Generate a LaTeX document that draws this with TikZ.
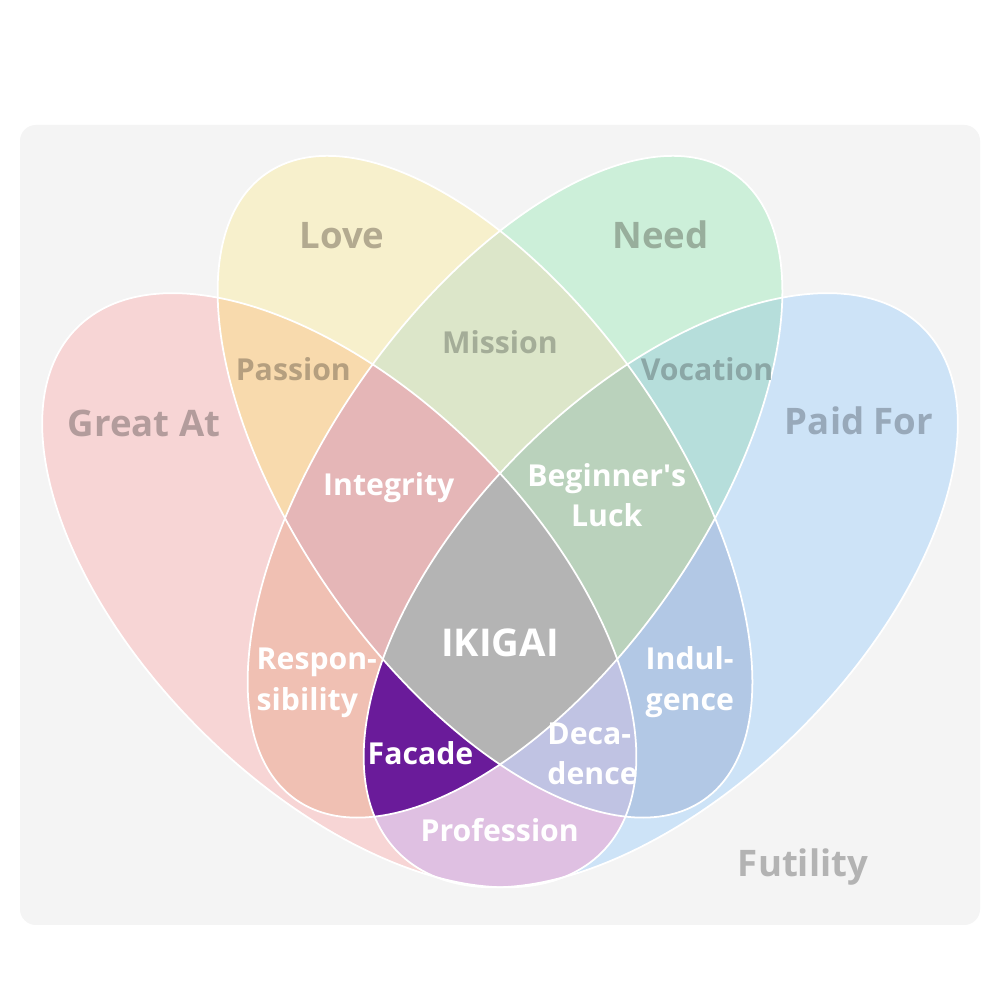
\documentclass[tikz,border=0pt]{standalone}
\usepackage{fontspec}
\setmainfont{Open Sans}
\definecolor{bgc}{HTML}{F4F4F4}
\definecolor{cGreat}{HTML}{F7D5D5}
\definecolor{cLove}{HTML}{F7F0CC}
\definecolor{cNeed}{HTML}{CCEFD9}
\definecolor{cPaid}{HTML}{CDE3F7}
\definecolor{cPassion}{HTML}{F8DAAD}
\definecolor{cMission}{HTML}{DCE6C9}
\definecolor{cVocation}{HTML}{B6DEDB}
\definecolor{cProfession}{HTML}{DFC0E2}
\definecolor{cRespons}{HTML}{F0C0B3}
\definecolor{cIndulg}{HTML}{B2C8E5}
\definecolor{cIntegrity}{HTML}{E5B6B7}
\definecolor{cLuck}{HTML}{BAD2BC}
\definecolor{cFacade}{HTML}{6A1B9A}
\definecolor{cDecad}{HTML}{C0C3E3}
\definecolor{cIkigai}{HTML}{B4B4B4}
\definecolor{tGreat}{HTML}{B39C9C}
\definecolor{tLove}{HTML}{B3AA90}
\definecolor{tNeed}{HTML}{98AE9C}
\definecolor{tPaid}{HTML}{98A9BA}
\definecolor{tPassion}{HTML}{B59F7F}
\definecolor{tMission}{HTML}{A4AD98}
\definecolor{tVocation}{HTML}{8BA7A6}
\definecolor{tFutility}{HTML}{B3B3B3}
\newcommand\EllA[1]{\path[#1, rotate around={-45:(3.3925,4.0975)}] (3.3925,4.0975) ellipse [x radius=3.71cm, y radius=1.97cm];}
\newcommand\EllB[1]{\path[#1, rotate around={-55:(4.85,5.1325)}] (4.85,5.1325) ellipse [x radius=3.82cm, y radius=1.87cm];}
\newcommand\EllC[1]{\path[#1, rotate around={55:(5.15,5.1325)}] (5.15,5.1325) ellipse [x radius=3.82cm, y radius=1.87cm];}
\newcommand\EllD[1]{\path[#1, rotate around={45:(6.6075,4.0975)}] (6.6075,4.0975) ellipse [x radius=3.71cm, y radius=1.97cm];}
\tikzset{
  biglab/.style={font=\bfseries\fontsize{10.4}{12}\selectfont, inner sep=0pt, anchor=base},
  smlab/.style={font=\bfseries\fontsize{8.6}{11.4}\selectfont, inner sep=0pt, anchor=base},
  outl/.style={draw=white, line width=0.5pt}
}
\begin{document}
\begin{tikzpicture}
\useasboundingbox (0,0) rectangle (10,10);
\fill[white] (0,0) rectangle (10,10);
\fill[bgc, rounded corners=0.16cm] (0.2,0.75) rectangle (9.8,8.75);
% single sets
\EllA{fill=cGreat}
\EllD{fill=cPaid}
\EllB{fill=cLove}
\EllC{fill=cNeed}
% pairs
\begin{scope}\EllA{clip}\EllB{fill=cPassion}\end{scope}
\begin{scope}\EllB{clip}\EllC{fill=cMission}\end{scope}
\begin{scope}\EllC{clip}\EllD{fill=cVocation}\end{scope}
\begin{scope}\EllA{clip}\EllD{fill=cProfession}\end{scope}
\begin{scope}\EllA{clip}\EllC{fill=cRespons}\end{scope}
\begin{scope}\EllB{clip}\EllD{fill=cIndulg}\end{scope}
% triples
\begin{scope}\EllA{clip}\EllB{clip}\EllC{fill=cIntegrity}\end{scope}
\begin{scope}\EllB{clip}\EllC{clip}\EllD{fill=cLuck}\end{scope}
\begin{scope}\EllA{clip}\EllC{clip}\EllD{fill=cFacade}\end{scope}
\begin{scope}\EllA{clip}\EllB{clip}\EllD{fill=cDecad}\end{scope}
% all four
\begin{scope}\EllA{clip}\EllB{clip}\EllC{clip}\EllD{fill=cIkigai}\end{scope}
% outlines
\EllA{outl}
\EllB{outl}
\EllC{outl}
\EllD{outl}
% labels
\node[biglab, text=tLove] (love) at (3.42,7.517) {Love};
\node[biglab, text=tNeed] (need) at (6.605,7.517) {Need};
\node[biglab, text=tGreat] (great) at (1.442,5.633) {Great At};
\node[biglab, text=tPaid] (paid) at (8.59,5.65) {Paid For};
\node[smlab, text=tPassion] (passion) at (2.933,6.193) {Passion};
\node[smlab, text=tMission] (mission) at (5.00,6.467) {Mission};
\node[smlab, text=tVocation] (vocation) at (7.07,6.193) {Vocation};
\node[smlab, text=white] (integrity) at (3.888,5.04) {Integrity};
\node[smlab, text=white] (luck) at (6.067,5.133) {\begin{tabular}[t]{@{}c@{}}Beginner\textquotesingle s\\Luck\end{tabular}};
\node[biglab, text=white, font=\bfseries\fontsize{10.9}{12}\selectfont] (ikigai) at (5.00,3.433) {IKIGAI};
\node[smlab, text=white, anchor=base west] (respons) at (2.56,3.30) {\begin{tabular}[t]{@{}l@{}}Respon-\\sibility\end{tabular}};
\node[smlab, text=white, anchor=base west] (indulg) at (6.45,3.30) {\begin{tabular}[t]{@{}l@{}}Indul-\\gence\end{tabular}};
\node[smlab, text=white] (facade) at (4.205,2.357) {Facade};
\node[smlab, text=white, anchor=base west] (decad) at (5.467,2.557) {\begin{tabular}[t]{@{}l@{}}Deca-\\dence\end{tabular}};
\node[smlab, text=white] (profession) at (4.997,1.583) {Profession};
\node[biglab, text=tFutility] (futility) at (8.03,1.23) {Futility};
\end{tikzpicture}
\end{document}
